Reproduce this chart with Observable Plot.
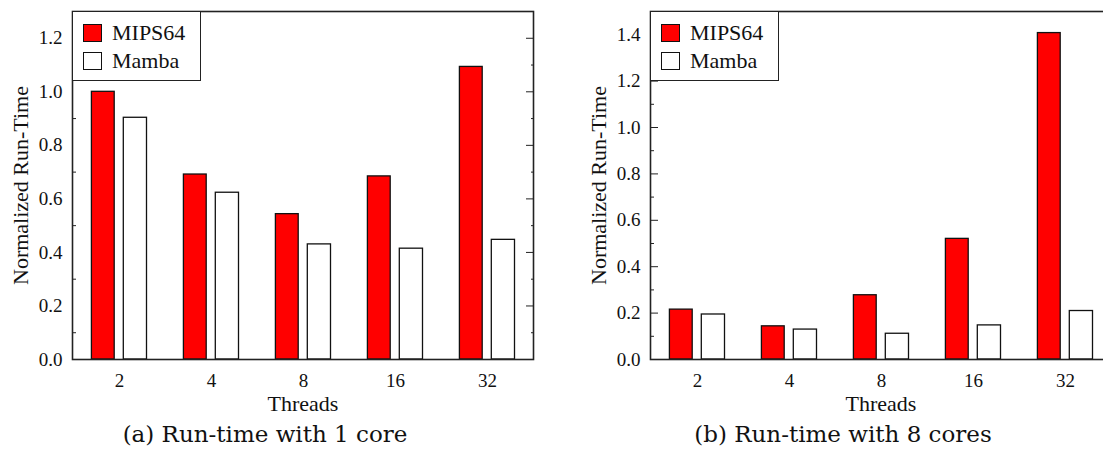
<!DOCTYPE html>
<html>
<head>
<meta charset="utf-8">
<script src="https://cdn.jsdelivr.net/npm/d3@7"></script>
<script src="https://cdn.jsdelivr.net/npm/@observablehq/plot@0.6"></script>
<style>
  html, body { margin: 0; padding: 0; background: #fff; }
  body { width: 1103px; height: 450px; overflow: hidden; position: relative; }
  .panel { position: absolute; top: 0; }
  .panel svg { max-width: none !important; display: block; }
  .legend {
    position: absolute; top: 11px; width: 129px; height: 70px;
    border: 1.5px solid #222; background: #fff; box-sizing: border-box;
    font-family: "Liberation Serif", serif; font-size: 22px; color: #111;
  }
  .legend .row { position: absolute; left: 10px; display: flex; align-items: center; height: 22px; }
  .legend .sw { width: 19px; height: 18px; border: 1.5px solid #111; margin-right: 10px; box-sizing: border-box; }
  .caption {
    position: absolute; top: 421px; transform: translateX(-50%); white-space: nowrap;
    font-family: "DejaVu Serif", serif; font-size: 23px; color: #111;
  }
</style>
</head>
<body>
<script>
// Thread counts on the x axis and the two simulated machines
const threads = ["2", "4", "8", "16", "32"];
const series = ["MIPS64", "Mamba"];
const seriesColors = ["#ff0000", "#ffffff"];

// Normalized run-time, 1 core
const oneCoreMips64 = [1.0, 0.691, 0.543, 0.684, 1.093];
const oneCoreMamba = [0.903, 0.623, 0.430, 0.414, 0.447];

// Normalized run-time, 8 cores
const eightCoreMips64 = [0.215, 0.143, 0.277, 0.520, 1.407];
const eightCoreMamba = [0.194, 0.129, 0.111, 0.147, 0.209];

// Y axis ticks
const ticksOneCore = [0, 0.2, 0.4, 0.6, 0.8, 1.0, 1.2];
const minorOneCore = [0.1, 0.3, 0.5, 0.7, 0.9, 1.1];
const ticksEightCore = [0, 0.2, 0.4, 0.6, 0.8, 1.0, 1.2, 1.4];
const minorEightCore = [0.1, 0.3, 0.5, 0.7, 0.9, 1.1, 1.3];

const captions = ["(a) Run-time with 1 core", "(b) Run-time with 8 cores"];

function rows(mips, mamba) {
  return threads.flatMap((t, i) => [
    {threads: t, series: series[0], value: mips[i]},
    {threads: t, series: series[1], value: mamba[i]}
  ]);
}

function panel({data, yMax, ticks, minor, leftMajor, rightAxis, width, marginLeft, marginRight}) {
  const fmt = d3.format(".1f");
  const bar = (name, insetLeft, insetRight) => Plot.barY(data.filter(d => d.series === name), {
    x: "threads", y: "value",
    fill: seriesColors[series.indexOf(name)],
    stroke: "#111", strokeWidth: 1.3,
    insetLeft, insetRight
  });
  const marks = [
    bar(series[0], 18.4, 50.8),
    bar(series[1], 50.3, 18.5),
    Plot.axisX({tickSize: 0, tickPadding: 14, label: null}),
    Plot.axisY({ticks, tickSize: 0, tickPadding: 10, tickFormat: fmt, label: null}),
    Plot.axisY({ticks: minor, tickSize: -4, text: null, label: null, stroke: "#222"}),
    Plot.frame({stroke: "#222", strokeWidth: 1.6}),
    Plot.text(["Threads"], {frameAnchor: "bottom", lineAnchor: "middle", dy: 44, fontSize: 22, fill: "#111"}),
    Plot.text(["Normalized Run-Time"], {frameAnchor: "left", textAnchor: "middle", dx: -52, rotate: -90, fontSize: 22, fill: "#111"})
  ];
  if (leftMajor) marks.push(Plot.axisY({ticks, tickSize: -8, text: null, label: null, stroke: "#222"}));
  if (rightAxis) {
    marks.push(Plot.axisY({anchor: "right", ticks, tickSize: -8, text: null, label: null, stroke: "#222"}));
    marks.push(Plot.axisY({anchor: "right", ticks: minor, tickSize: -3, text: null, label: null, stroke: "#222"}));
  }
  return Plot.plot({
    width, height: 420,
    marginTop: 11, marginBottom: 61, marginLeft, marginRight,
    x: {type: "band", domain: threads, padding: 0},
    y: {domain: [0, yMax]},
    style: {fontFamily: "'Liberation Serif', serif", fontSize: "19px", color: "#111", background: "transparent"},
    marks
  });
}

function legend(left) {
  const box = document.createElement("div");
  box.className = "legend";
  box.style.left = left + "px";
  series.forEach((name, i) => {
    const row = document.createElement("div");
    row.className = "row";
    row.style.top = (10 + i * 28) + "px";
    const sw = document.createElement("div");
    sw.className = "sw";
    sw.style.background = seriesColors[i];
    row.appendChild(sw);
    row.appendChild(document.createTextNode(name));
    box.appendChild(row);
  });
  document.body.appendChild(box);
}

function place(node, left, width) {
  const wrap = document.createElement("div");
  wrap.className = "panel";
  wrap.style.left = left + "px";
  wrap.style.width = width + "px";
  wrap.appendChild(node);
  document.body.appendChild(wrap);
}

function caption(text, center) {
  const c = document.createElement("div");
  c.className = "caption";
  c.style.left = center + "px";
  c.textContent = text;
  document.body.appendChild(c);
}

place(panel({data: rows(oneCoreMips64, oneCoreMamba), yMax: 1.3, ticks: ticksOneCore, minor: minorOneCore,
             leftMajor: false, rightAxis: true, width: 560, marginLeft: 72, marginRight: 27}), 0, 560);
place(panel({data: rows(eightCoreMips64, eightCoreMamba), yMax: 1.5, ticks: ticksEightCore, minor: minorEightCore,
             leftMajor: true, rightAxis: false, width: 551, marginLeft: 90, marginRight: 0}), 560, 551);
legend(72);
legend(650);
caption(captions[0], 265);
caption(captions[1], 843);
</script>
</body>
</html>
